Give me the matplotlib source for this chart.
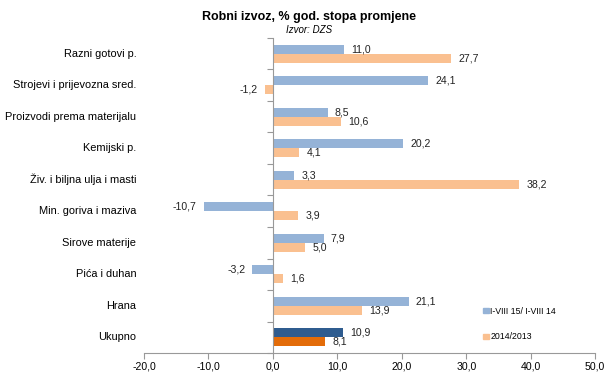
import matplotlib
matplotlib.use("Agg")
import matplotlib.pyplot as plt
import matplotlib.transforms as mtransforms
from matplotlib.patches import Patch
import numpy as np

plt.rcParams["font.family"] = ["Liberation Sans", "DejaVu Sans"]

categories = [
    "Razni gotovi p.",
    "Strojevi i prijevozna sred.",
    "Proizvodi prema materijalu",
    "Kemijski p.",
    "Živ. i biljna ulja i masti",
    "Min. goriva i maziva",
    "Sirove materije",
    "Pića i duhan",
    "Hrana",
    "Ukupno",
]
ytd_2015 = [11.0, 24.1, 8.5, 20.2, 3.3, -10.7, 7.9, -3.2, 21.1, 10.9]
yoy_2014 = [27.7, -1.2, 10.6, 4.1, 38.2, 3.9, 5.0, 1.6, 13.9, 8.1]
series_labels = ["I-VIII 15/ I-VIII 14", "2014/2013"]
xticks = [-20, -10, 0, 10, 20, 30, 40, 50]

blue_light = "#95B3D7"
orange_light = "#FAC090"
blue_dark = "#2F5C8F"
orange_dark = "#E36C09"


def fmt(v):
    return f"{v:.1f}".replace(".", ",")


fig = plt.figure(figsize=(6.06, 3.72), dpi=100)
ax = fig.add_axes([0.2376, 0.051, 0.7444, 0.847])

n = len(categories)
y = np.arange(n)
h = 0.28
blue_colors = [blue_light] * (n - 1) + [blue_dark]
orange_colors = [orange_light] * (n - 1) + [orange_dark]
ax.barh(y - h / 2, ytd_2015, height=h, color=blue_colors)
ax.barh(y + h / 2, yoy_2014, height=h, color=orange_colors)

for i in range(n):
    for v, yy in ((ytd_2015[i], y[i] - h / 2), (yoy_2014[i], y[i] + h / 2)):
        off = 1.1 if v >= 0 else -1.1
        ax.text(v + off, yy, fmt(v), ha="left" if v >= 0 else "right",
                va="center", fontsize=7.6, color="#222222")

ax.set_ylim(n - 0.5, -0.5)
ax.set_xlim(-20, 50)
ax.set_xticks(xticks)
ax.set_xticklabels([fmt(t) for t in xticks], fontsize=7.6)

for s in ("top", "right"):
    ax.spines[s].set_visible(False)
ax.spines["left"].set_position(("data", 0))
ax.spines["left"].set_color("#999999")
ax.spines["bottom"].set_color("#999999")
ax.tick_params(axis="x", length=4, color="#999999", pad=2)
ax.set_yticks(np.arange(n + 1) - 0.5)
ax.set_yticklabels([])
ax.tick_params(axis="y", length=4, color="#999999")

trans = mtransforms.blended_transform_factory(ax.transAxes, ax.transData)
for i, c in enumerate(categories):
    ax.text(-0.017, y[i], c, transform=trans, ha="right", va="center", fontsize=7.9)

handles = [Patch(color=blue_light), Patch(color=orange_light)]
ax.legend(handles, series_labels, loc="lower left", bbox_to_anchor=(0.735, 0.012),
          frameon=False, fontsize=6.3, handlelength=0.6, handleheight=0.6,
          handletextpad=0.2, labelspacing=1.9)

fig.text(0.51, 0.953, "Robni izvoz, % god. stopa promjene", ha="center",
         va="center", fontsize=9, fontweight="bold")
fig.text(0.51, 0.92, "Izvor: DZS", ha="center", va="center", fontsize=7,
         style="italic")

fig.savefig("out.png", dpi=100)
